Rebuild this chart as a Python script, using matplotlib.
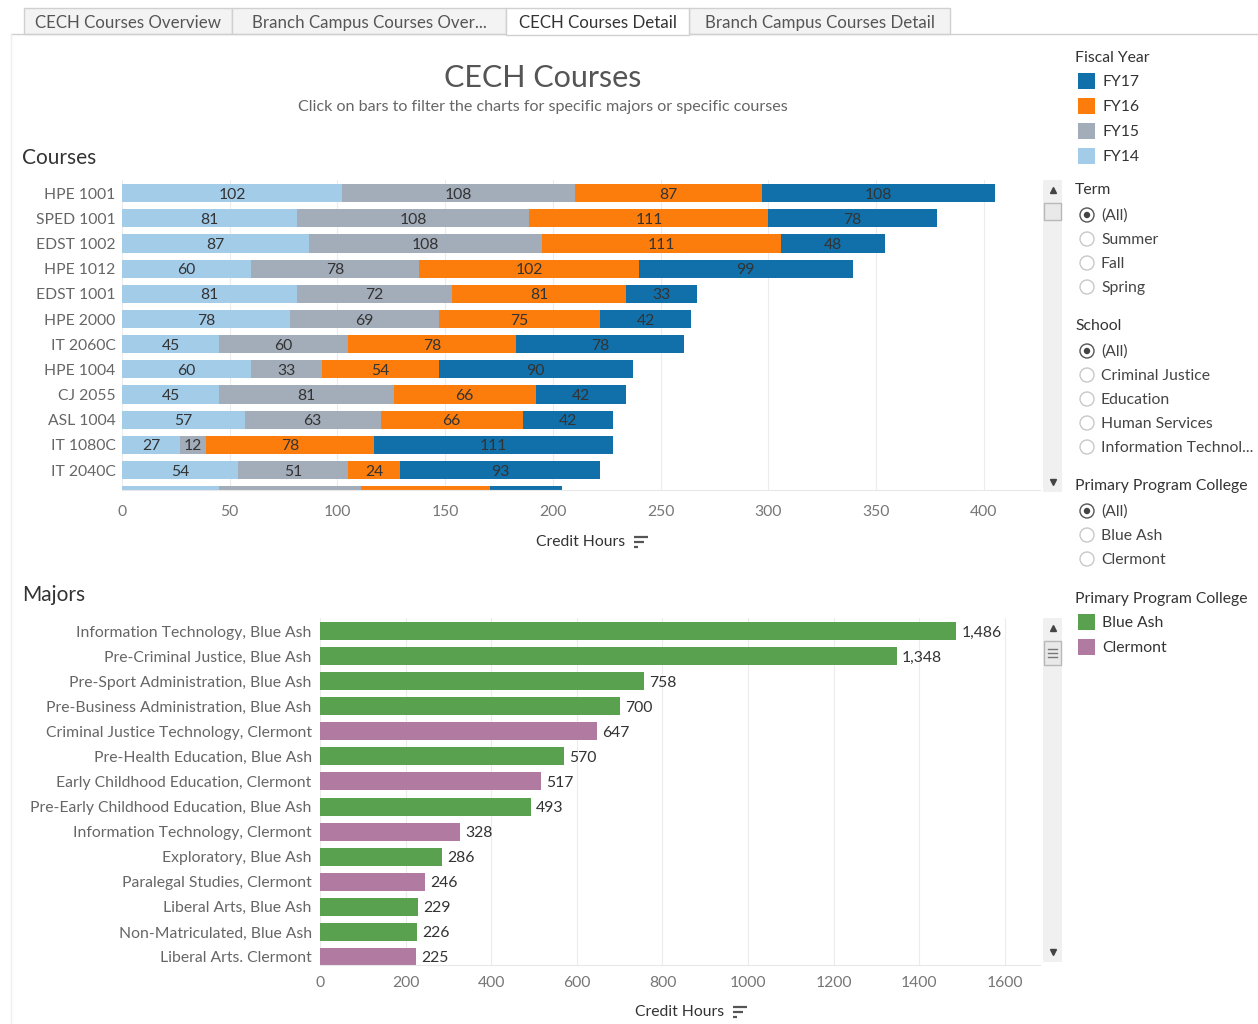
"""
CECH Courses dashboard recreation.
"""

import matplotlib
matplotlib.use("Agg")
import matplotlib.pyplot as plt
from matplotlib.patches import Rectangle, Circle

plt.rcParams['font.family'] = ['Lato', 'DejaVu Sans']


courses = [
    "HPE 1001", "SPED 1001", "EDST 1002", "HPE 1012", "EDST 1001",
    "HPE 2000", "IT 2060C", "HPE 1004", "CJ 2055", "ASL 1004",
    "IT 1080C", "IT 2040C", "CJ 1002",
]
fy14 = [102, 81, 87, 60, 81, 78, 45, 60, 45, 57, 27, 54, 45]
fy15 = [108, 108, 108, 78, 72, 69, 60, 33, 81, 63, 12, 51, 66]
fy16 = [87, 111, 111, 102, 81, 75, 78, 54, 66, 66, 78, 24, 60]
fy17 = [108, 78, 48, 99, 33, 42, 78, 90, 42, 42, 111, 93, 33]

majors = [
    "Information Technology, Blue Ash", "Pre-Criminal Justice, Blue Ash",
    "Pre-Sport Administration, Blue Ash", "Pre-Business Administration, Blue Ash",
    "Criminal Justice Technology, Clermont", "Pre-Health Education, Blue Ash",
    "Early Childhood Education, Clermont", "Pre-Early Childhood Education, Blue Ash",
    "Information Technology, Clermont", "Exploratory, Blue Ash",
    "Paralegal Studies, Clermont", "Liberal Arts, Blue Ash",
    "Non-Matriculated, Blue Ash", "Liberal Arts. Clermont",
]
major_hours = [1486, 1348, 758, 700, 647, 570, 517, 493, 328, 286, 246, 229, 226, 225]
major_college = [
    "Blue Ash", "Blue Ash", "Blue Ash", "Blue Ash", "Clermont", "Blue Ash",
    "Clermont", "Blue Ash", "Clermont", "Blue Ash", "Clermont", "Blue Ash",
    "Blue Ash", "Clermont",
]

year_names = ["FY14", "FY15", "FY16", "FY17"]
year_colors = {"FY17": "#1170aa", "FY16": "#fc7d0b", "FY15": "#a3acb9", "FY14": "#a3cce9"}
college_colors = {"Blue Ash": "#59a14f", "Clermont": "#b07aa1"}

tabs = ["CECH Courses Overview", "Branch Campus Courses Over...",
        "CECH Courses Detail", "Branch Campus Courses Detail"]


W, H = 1258, 1024
FS = 11.3


def box(l, t, r, b):
    return [l / W, 1 - b / H, (r - l) / W, (b - t) / H]


fig = plt.figure(figsize=(W / 100, H / 100), dpi=100)
fig.patch.set_facecolor("white")

# pixel overlay for the dashboard furniture
bg = fig.add_axes([0, 0, 1, 1])
bg.set_xlim(0, W)
bg.set_ylim(H, 0)
bg.axis("off")

# tabs
tab_x = [24, 232, 506, 689, 950]
bg.plot([11, W], [34, 34], color="#d0d0d0", lw=1)
for i, name in enumerate(tabs):
    active = name == "CECH Courses Detail"
    bg.add_patch(Rectangle((tab_x[i], 8), tab_x[i + 1] - tab_x[i], 26 + (1 if active else 0),
                           facecolor="white" if active else "#f3f3f3",
                           edgecolor="#d0d0d0", lw=1, zorder=2 if active else 1))
    bg.text((tab_x[i] + tab_x[i + 1]) / 2, 23, name, ha="center", va="center",
            fontsize=12.2, color="#333333" if active else "#555555", zorder=3)
bg.plot([11, 11], [34, H], color="#eeeeee", lw=1)

# titles
bg.text(543, 78, "CECH Courses", ha="center", va="center", fontsize=22, color="#555555")
bg.text(543, 107, "Click on bars to filter the charts for specific majors or specific courses",
        ha="center", va="center", fontsize=11.6, color="#666666")
bg.text(22, 158, "Courses", ha="left", va="center", fontsize=15, color="#333333")
bg.text(22, 595, "Majors", ha="left", va="center", fontsize=15, color="#333333")


def sort_icon(x, y):
    for k, ln in enumerate([14, 10, 4]):
        bg.plot([x, x + ln], [y + k * 5, y + k * 5], color="#555555", lw=1.6,
                solid_capstyle="butt")


bg.text(581, 542, "Credit Hours", ha="center", va="center", fontsize=11.3, color="#333333")
sort_icon(634, 537)
bg.text(680, 1012, "Credit Hours", ha="center", va="center", fontsize=11.3, color="#333333")
sort_icon(733, 1007)


# scrollbars
def scrollbar(top, bottom, thumb_h, lines=False):
    bg.add_patch(Rectangle((1043, top), 19, bottom - top, facecolor="#f0f0f0",
                           edgecolor="none"))
    bg.add_patch(Rectangle((1044, top + 23), 17, thumb_h, facecolor="#e9e9e9",
                           edgecolor="#b8b8b8", lw=1))
    bg.plot([1052.5], [top + 10], marker="^", ms=4, color="#444444")
    bg.plot([1052.5], [bottom - 10], marker="v", ms=4, color="#444444")
    if lines:
        for k in range(3):
            yy = top + 23 + thumb_h / 2 - 4 + k * 4
            bg.plot([1048, 1057], [yy, yy], color="#777777", lw=1)


scrollbar(180, 492, 17)
scrollbar(618, 962, 24, lines=True)

# right-hand legends and filters
lx = 1075
bg.text(lx, 58, "Fiscal Year", ha="left", va="center", fontsize=FS, color="#333333")
for k, name in enumerate(["FY17", "FY16", "FY15", "FY14"]):
    y = 81 + k * 25
    bg.add_patch(Rectangle((1078, y - 8), 17, 16, facecolor=year_colors[name],
                           edgecolor="none"))
    bg.text(1102, y + 1, name, ha="left", va="center", fontsize=FS, color="#333333")


def radio_group(title, ty, options):
    bg.text(lx, ty, title, ha="left", va="center", fontsize=FS, color="#333333")
    for k, opt in enumerate(options):
        y = ty + 25 + k * 24
        bg.add_patch(Circle((1087, y), 7, facecolor="white",
                            edgecolor="#555555" if k == 0 else "#c8c8c8", lw=1))
        if k == 0:
            bg.add_patch(Circle((1087, y), 3.2, facecolor="#444444", edgecolor="none"))
        bg.text(1101, y + 1, opt, ha="left", va="center", fontsize=FS, color="#444444")


radio_group("Term", 190, ["(All)", "Summer", "Fall", "Spring"])
radio_group("School", 326, ["(All)", "Criminal Justice", "Education",
                            "Human Services", "Information Technol..."])
radio_group("Primary Program College", 486, ["(All)", "Blue Ash", "Clermont"])

bg.text(lx, 599, "Primary Program College", ha="left", va="center", fontsize=FS,
        color="#333333")
for k, name in enumerate(["Blue Ash", "Clermont"]):
    y = 622 + k * 25
    bg.add_patch(Rectangle((1078, y - 8), 17, 16, facecolor=college_colors[name],
                           edgecolor="none"))
    bg.text(1102, y + 1, name, ha="left", va="center", fontsize=FS, color="#333333")


# ---- Courses stacked bars ----
ax = fig.add_axes(box(122, 180, 1040, 490))
rows = list(range(len(courses)))
left = [0] * len(courses)
for name, vals in zip(year_names, [fy14, fy15, fy16, fy17]):
    ax.barh(rows, vals, left=left, height=0.72, color=year_colors[name], zorder=2)
    for i, (l0, v) in enumerate(zip(left, vals)):
        ax.text(l0 + v / 2, i, str(v), ha="center", va="center_baseline", fontsize=FS,
                color="#333333", clip_on=True, zorder=3)
    left = [a + b for a, b in zip(left, vals)]

ax.set_xlim(0, 426)
ax.set_ylim(11.79, -0.52)
ax.set_xticks(range(0, 401, 50))
ax.set_yticks(rows[:-1])
ax.set_yticklabels(courses[:-1])
ax.tick_params(axis="y", length=0, pad=4.5, labelsize=FS, labelcolor="#666666")
ax.tick_params(axis="x", length=0, pad=11, labelsize=FS, labelcolor="#777777")
ax.grid(axis="x", color="#ececec", lw=0.8, zorder=0)
ax.set_axisbelow(True)
for s in ["top", "right", "left"]:
    ax.spines[s].set_visible(False)
ax.spines["bottom"].set_color("#e8e8e8")


# ---- Majors bars ----
ax2 = fig.add_axes(box(320, 618, 1040, 965))
mrows = list(range(len(majors)))
ax2.barh(mrows, major_hours, height=0.72,
         color=[college_colors[c] for c in major_college], zorder=2)
for i, v in enumerate(major_hours):
    ax2.text(v + 12, i, f"{v:,}", ha="left", va="center_baseline", fontsize=FS,
             color="#333333", clip_on=True)

ax2.set_xlim(0, 1682)
ax2.set_ylim(13.32, -0.52)
ax2.set_xticks(range(0, 1601, 200))
ax2.set_yticks(mrows)
ax2.set_yticklabels(majors)
ax2.tick_params(axis="y", length=0, pad=6, labelsize=FS, labelcolor="#666666")
ax2.tick_params(axis="x", length=0, pad=8, labelsize=FS, labelcolor="#777777")
ax2.grid(axis="x", color="#ececec", lw=0.8, zorder=0)
ax2.set_axisbelow(True)
for s in ["top", "right", "left"]:
    ax2.spines[s].set_visible(False)
ax2.spines["bottom"].set_color("#e8e8e8")

fig.savefig("out.png", dpi=100)
